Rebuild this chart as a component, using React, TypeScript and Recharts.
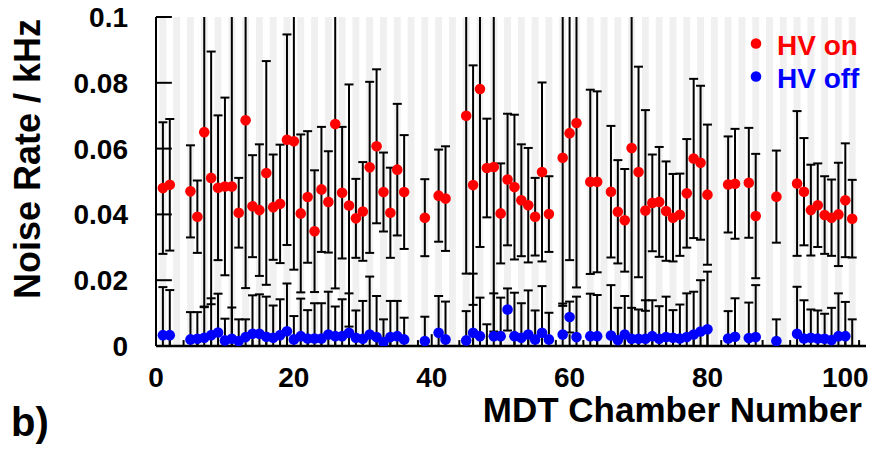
import { ComposedChart, Scatter, XAxis, YAxis, ErrorBar, ReferenceArea, ReferenceLine, Legend, Label } from 'recharts';

// MDT chamber numbers that have a measurement
const chambers = [
    1, 2, 5, 6, 7, 8, 9, 10, 11, 12, 13, 14, 15, 16, 17, 18, 19, 20, 21, 22, 23, 24, 25, 26, 27, 28, 29, 30,
    31, 32, 33, 34, 35, 36, 39, 41, 42, 45, 46, 47, 48, 49, 50, 51, 52, 53, 54, 55, 56, 57, 59, 60, 61, 63,
    64, 66, 67, 68, 69, 70, 71, 72, 73, 74, 75, 76, 77, 78, 79, 80, 83, 84, 86, 87, 90, 93, 94, 95, 96, 97,
    98, 99, 100, 101,
];

// noise rate with HV on (kHz) and its error
const onRate = [
    0.048, 0.049, 0.047, 0.0393, 0.065, 0.0511, 0.0481, 0.0485, 0.0485, 0.0405, 0.0686, 0.0425, 0.0413, 0.0526,
    0.0422, 0.0432, 0.0627, 0.0622, 0.0403, 0.0453, 0.0349, 0.0476, 0.0438, 0.0675, 0.0466, 0.0427, 0.0388, 0.0409,
    0.0543, 0.0607, 0.0468, 0.0405, 0.0536, 0.0468, 0.039, 0.0457, 0.0448, 0.07, 0.0489, 0.0781, 0.0541, 0.0544,
    0.0403, 0.0506, 0.0483, 0.0443, 0.0428, 0.0393, 0.0529, 0.0401, 0.0572, 0.0647, 0.0678, 0.0499, 0.0499, 0.0469,
    0.0408, 0.0382, 0.0602, 0.0529, 0.0412, 0.0435, 0.0438, 0.041, 0.039, 0.0399, 0.0464, 0.057, 0.0557, 0.046,
    0.0491, 0.0493, 0.0496, 0.0395, 0.0454, 0.0494, 0.0469, 0.0413, 0.0428, 0.0398, 0.039, 0.04, 0.0443, 0.0387,
];
const onErr = [
    0.02, 0.02, 0.014, 0.011, 0.053, 0.0384, 0.022, 0.027, 0.055, 0.0106, 0.051, 0.0155, 0.02, 0.034,
    0.016, 0.018, 0.032, 0.039, 0.024, 0.02, 0.0185, 0.019, 0.0154, 0.05, 0.02, 0.0368, 0.012, 0.015,
    0.026, 0.0234, 0.012, 0.0137, 0.02, 0.0173, 0.0117, 0.014, 0.0159, 0.048, 0.0364, 0.048, 0.015, 0.05,
    0.0152, 0.02, 0.022, 0.017, 0.0174, 0.0118, 0.0272, 0.0115, 0.045, 0.0386, 0.05, 0.028, 0.0275, 0.02,
    0.0157, 0.0156, 0.062, 0.032, 0.0305, 0.0147, 0.0167, 0.0151, 0.0133, 0.0125, 0.0165, 0.0242, 0.0234, 0.0213,
    0.0146, 0.0167, 0.0167, 0.0189, 0.014, 0.022, 0.0163, 0.0138, 0.0127, 0.0118, 0.0116, 0.0157, 0.0173, 0.0118,
];

// noise rate with HV off (kHz) and its error
const offRate = [
    0.0033, 0.0033, 0.002, 0.0022, 0.0025, 0.0033, 0.0041, 0.0017, 0.0022, 0.0015, 0.0027, 0.0037, 0.0037, 0.0028,
    0.0025, 0.0033, 0.0045, 0.002, 0.003, 0.0023, 0.0023, 0.0023, 0.0035, 0.003, 0.003, 0.004, 0.0025, 0.0022,
    0.0035, 0.0027, 0.0012, 0.0027, 0.003, 0.002, 0.0015, 0.004, 0.002, 0.0017, 0.004, 0.003, -0.002, 0.003,
    0.003, 0.0111, 0.003, 0.0025, 0.0035, 0.002, 0.004, 0.002, 0.0035, 0.0088, 0.0027, 0.003, 0.003, 0.0032,
    0.0018, 0.0035, 0.0022, 0.0022, 0.0022, 0.003, 0.0022, 0.0027, 0.0025, 0.0023, 0.0027, 0.0035, 0.0044, 0.0051,
    0.0023, 0.0028, 0.0024, 0.0027, 0.0015, 0.0037, 0.0023, 0.0025, 0.0023, 0.0022, 0.0018, 0.003, 0.003, -0.002,
];
const offErr = [
    0.0146, 0.0137, 0.0083, 0.0081, 0.0093, 0.0112, 0.0118, 0.0066, 0.0095, 0.0066, 0.0054, 0.0117, 0.012, 0.0122,
    0.0098, 0.0109, 0.0145, 0.0071, 0.0114, 0.0086, 0.0107, 0.0107, 0.013, 0.009, 0.0112, 0.012, 0.0083, 0.0115,
    0.0176, 0.0125, 0.0069, 0.011, 0.0107, 0.0066, 0.0074, 0.0112, 0.0115, 0.0089, 0.018, 0.0117, 0.0086, 0.013,
    0.0117, 0.0064, 0.0132, 0.0105, 0.0134, 0.0088, 0.0142, 0.0081, 0.0094, 0.0047, 0.0123, 0.0129, 0.0125, 0.0153,
    0.0098, 0.0117, 0.0094, 0.0089, 0.0117, 0.0109, 0.0099, 0.0123, 0.0084, 0.0103, 0.0133, 0.013, 0.0156, 0.0175,
    0.0083, 0.0117, 0.0108, 0.0158, 0.0066, 0.0143, 0.0116, 0.0086, 0.0085, 0.0076, 0.0098, 0.013, 0.0104, 0.0101,
];

const seriesNames = ['HV on', 'HV off'];
const xTicks = [0, 20, 40, 60, 80, 100];
const xMinorTicks = [
    2, 4, 6, 8, 10, 12, 14, 16, 18, 22, 24, 26, 28, 30, 32, 34, 36, 38, 42, 44, 46, 48, 50, 52, 54, 56, 58,
    62, 64, 66, 68, 70, 72, 74, 76, 78, 82, 84, 86, 88, 90, 92, 94, 96, 98, 102,
];
const yTicks = [0, 0.02, 0.04, 0.06, 0.08, 0.1];
const shadedChambers = [
    1, 3, 5, 7, 9, 11, 13, 15, 17, 19, 21, 23, 25, 27, 29, 31, 33, 35, 37, 39, 41, 43, 45, 47, 49, 51,
    53, 55, 57, 59, 61, 63, 65, 67, 69, 71, 73, 75, 77, 79, 81, 83, 85, 87, 89, 91, 93, 95, 97, 99, 101,
];

const onData = chambers.map((c, i) => ({ x: c, y: onRate[i], err: onErr[i] }));
const offData = chambers.map((c, i) => ({ x: c, y: offRate[i], err: offErr[i] }));

const FONT = '"Liberation Sans", Arial, Helvetica, sans-serif';
const tickStyle = { fill: '#000', fontSize: 28, fontWeight: 700, fontFamily: FONT };

// plot area (chart margin + axis sizes) used to clip bars that run off the frame
const PLOT = { x: 156, y: 17, w: 710, h: 329 };
// inward tick lengths, expressed in axis units (ROOT draws ticks inside the frame)
const MINOR_TICK = 0.0018;
const MAJOR_TICK = 0.0036;
const Y_TICK = 2.3;

const dot = (color: string) => (props: any) => <circle cx={props.cx} cy={props.cy} r={5.3} fill={color} />;
const noShape = () => <g />;

function LegendBox({ payload }: any) {
    const items = seriesNames
        .map(name => (payload || []).find((p: any) => p.value === name))
        .filter(Boolean);
    return (
        <svg width={125} height={70} style={{ overflow: 'visible' }}>
            {items.map((p: any, i: number) => (
                <g key={p.value}>
                    <circle cx={11} cy={16.5 + i * 33} r={5.3} fill={p.color} />
                    <text x={32} y={27.5 + i * 33} fill={p.color} fontSize={28} fontWeight={700} fontFamily={FONT}>
                        {p.value}
                    </text>
                </g>
            ))}
        </svg>
    );
}

export default function App() {
    return (
        <div style={{ position: 'absolute', left: 0, top: 0, width: 874, height: 450, background: '#fff' }}>
            <style>{`.recharts-errorBar, .recharts-scatter-symbol { clip-path: url(#plot-clip); }`}</style>
            <svg width={0} height={0} style={{ position: 'absolute' }}>
                <defs>
                    <clipPath id="plot-clip" clipPathUnits="userSpaceOnUse">
                        <rect x={PLOT.x} y={PLOT.y} width={PLOT.w} height={PLOT.h} />
                    </clipPath>
                </defs>
            </svg>
            <ComposedChart width={874} height={450} margin={{ top: 17, right: 8, bottom: 0, left: 0 }}>
                {shadedChambers.map(n => (
                    <ReferenceArea key={n} x1={n - 0.5} x2={n + 0.5} fill="#f0f0f0" fillOpacity={1} stroke="none" ifOverflow="hidden" />
                ))}
                <XAxis
                    type="number"
                    dataKey="x"
                    domain={[0, 103]}
                    allowDataOverflow
                    ticks={xTicks}
                    interval={0}
                    height={104}
                    tickSize={0}
                    tickMargin={21}
                    tickLine={false}
                    axisLine={{ stroke: '#000', strokeWidth: 2.5 }}
                    tick={tickStyle}
                >
                    <Label
                        content={() => (
                            <text x={862} y={422} textAnchor="end" fontSize={35} fontWeight={700} fontFamily={FONT} fill="#000">
                                MDT Chamber Number
                            </text>
                        )}
                    />
                    <Label
                        content={() => (
                            <text x={11} y={436} fontSize={40} fontWeight={700} fontFamily={FONT} fill="#000">
                                b)
                            </text>
                        )}
                    />
                </XAxis>
                <YAxis
                    type="number"
                    domain={[0, 0.1]}
                    allowDataOverflow
                    ticks={yTicks}
                    interval={0}
                    width={156}
                    tickSize={0}
                    tickMargin={28}
                    tickLine={false}
                    axisLine={{ stroke: '#000', strokeWidth: 2 }}
                    tick={tickStyle}
                    tickFormatter={(v: number) => String(v)}
                    label={
                        <Label
                            content={() => (
                                <text x={40} y={159} transform="rotate(-90 40 159)" textAnchor="middle" fontSize={36} fontWeight={700} fontFamily={FONT} fill="#000">
                                    Noise Rate / kHz
                                </text>
                            )}
                        />
                    }
                />

                <Scatter name="on-err" data={onData} dataKey="y" shape={noShape} legendType="none" isAnimationActive={false}>
                    <ErrorBar dataKey="err" direction="y" width={4.5} stroke="#000" strokeWidth={2} clipPath="url(#plot-clip)" />
                </Scatter>
                <Scatter name="off-err" data={offData} dataKey="y" shape={noShape} legendType="none" isAnimationActive={false}>
                    <ErrorBar dataKey="err" direction="y" width={4.5} stroke="#000" strokeWidth={2} clipPath="url(#plot-clip)" />
                </Scatter>
                <Scatter name="HV on" data={onData} dataKey="y" fill="#ff0000" shape={dot('#ff0000')} isAnimationActive={false} />
                <Scatter name="HV off" data={offData} dataKey="y" fill="#0000ff" shape={dot('#0000ff')} isAnimationActive={false} />

                {/* inward tick marks */}
                {xMinorTicks.map(t => (
                    <ReferenceLine key={`mx${t}`} segment={[{ x: t, y: 0 }, { x: t, y: MINOR_TICK }]} stroke="#000" strokeWidth={2} ifOverflow="visible" />
                ))}
                {xTicks.map(t => (
                    <ReferenceLine key={`Mx${t}`} segment={[{ x: t, y: 0 }, { x: t, y: MAJOR_TICK }]} stroke="#000" strokeWidth={2} ifOverflow="visible" />
                ))}
                {yTicks.map(t => (
                    <ReferenceLine key={`y${t}`} segment={[{ x: 0, y: t }, { x: Y_TICK, y: t }]} stroke="#000" strokeWidth={2} ifOverflow="visible" />
                ))}

                <Legend
                    layout="vertical"
                    align="center"
                    verticalAlign="middle"
                    content={<LegendBox />}
                    wrapperStyle={{ left: 745, top: 27, width: 125, height: 70 }}
                />
            </ComposedChart>
        </div>
    );
}
